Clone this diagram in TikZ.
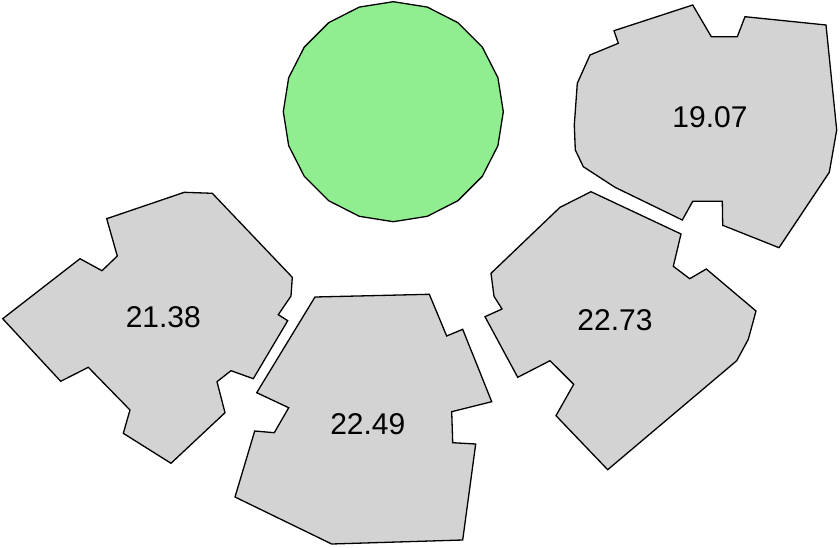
\documentclass[tikz,border=0pt]{standalone}
\usepackage{fontspec}
\setmainfont{Liberation Sans}
\definecolor{partgray}{RGB}{211,211,211}
\definecolor{partgreen}{RGB}{144,238,144}
\tikzset{
  part/.style={draw=black, fill=partgray, line width=1.3pt},
  hole/.style={draw=black, fill=partgreen, line width=1.3pt},
  area/.style={font=\fontsize{30}{35}\selectfont, text=black, inner sep=0pt}
}

\begin{document}
\begin{tikzpicture}[x=1pt, y=-1pt]
  \useasboundingbox (0,0) rectangle (840,548);
  % round piece
  \draw[hole] plot[samples=21, domain=0:360] ({393.3+110*cos(\x)}, {111.7+110*sin(\x)}) -- cycle;
  % left piece
  \draw[part] (184.3,192.3) -- (212.3,193.3) -- (292.3,277.3) -- (291,296) -- (278.3,314.7)
    -- (287.7,320.7) -- (253.3,378.7) -- (231,370.7) -- (217,381.7) -- (225,412.7)
    -- (171,463.3) -- (123.3,433.3) -- (130,410) -- (88.3,367.3) -- (60.7,381.3)
    -- (2.7,318.7) -- (80,258.7) -- (102,270.7) -- (117.3,256) -- (106.7,218.7) -- cycle;
  % bottom piece
  \draw[part] (315,297) -- (429.3,294.3) -- (446.7,336) -- (462.7,329.3) -- (491.7,401.7)
    -- (451.7,411.7) -- (452.7,442.7) -- (475.7,444) -- (462.7,540) -- (331.7,544)
    -- (235,497) -- (254.7,431) -- (274.3,432.7) -- (288.7,407.7) -- (256.7,392.7) -- cycle;
  % right piece
  \draw[part] (591,191.7) -- (681,234) -- (673.3,266.3) -- (689.7,278.7) -- (706.3,269)
    -- (756,311) -- (748.3,339.3) -- (736.7,360.7) -- (607.7,469.7) -- (556,415.7)
    -- (573.7,384.3) -- (550,360.7) -- (517.7,377.3) -- (485,316.7) -- (502,309)
    -- (494,296.3) -- (491,273.3) -- (560,207.3) -- cycle;
  % top piece
  \draw[part] (692.7,5) -- (711.3,36.7) -- (737.3,36.7) -- (745,16.7) -- (826,25)
    -- (836.7,130) -- (829.3,172.3) -- (779,247.7) -- (722.7,225.3) -- (722.3,201.3)
    -- (692.7,201.3) -- (682.3,220) -- (615,187.3) -- (583.3,166.7) -- (575.3,150)
    -- (574.3,125) -- (577.3,83.3) -- (590,55) -- (618.3,43.3) -- (614,30.7) -- cycle;
  % areas
  \node[area] (aleft)   at (163.3,316.7) {21.38};
  \node[area] (abottom) at (367.8,424.2) {22.49};
  \node[area] (aright)  at (615,320.5)   {22.73};
  \node[area] (atop)    at (710,117.5)   {19.07};
\end{tikzpicture}
\end{document}
